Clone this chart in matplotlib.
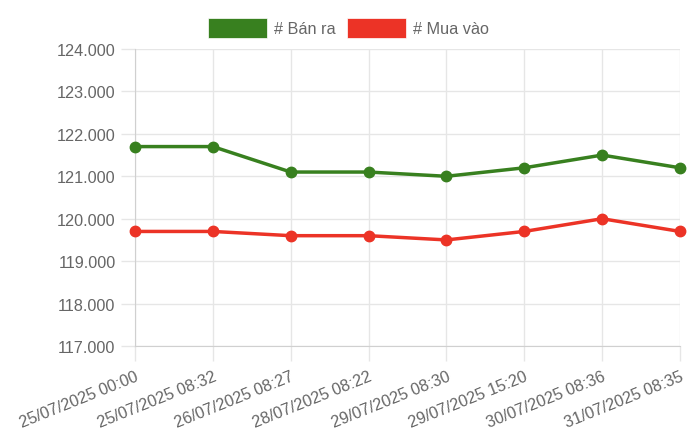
import matplotlib
matplotlib.use("Agg")
import matplotlib.pyplot as plt
from matplotlib.patches import Rectangle

categories = ["25/07/2025 00:00", "25/07/2025 08:32", "26/07/2025 08:27", "28/07/2025 08:22",
              "29/07/2025 08:30", "29/07/2025 15:20", "30/07/2025 08:36", "31/07/2025 08:35"]
ban_ra = [121700, 121700, 121100, 121100, 121000, 121200, 121500, 121200]
mua_vao = [119700, 119700, 119600, 119600, 119500, 119700, 120000, 119700]
yticks = [117000, 118000, 119000, 120000, 121000, 122000, 123000, 124000]
ytick_labels = ["117.000", "118.000", "119.000", "120.000", "121.000", "122.000", "123.000", "124.000"]

GREEN = "#38801f"
RED = "#ec3326"
TXT = "#666666"
GRID = "#e6e6e6"

plt.rcParams['font.family'] = ['Liberation Sans', 'DejaVu Sans']

W, H = 700, 439
fig = plt.figure(figsize=(W/100, H/100), dpi=100)
ax = fig.add_axes([135/W, 1-347/H, (680-135)/W, (347-50)/H])

x = list(range(len(categories)))
ax.plot(x, ban_ra, color=GREEN, lw=2.5, marker='o', ms=7.5, zorder=3, clip_on=False)
ax.plot(x, mua_vao, color=RED, lw=2.5, marker='o', ms=7.5, zorder=3, clip_on=False)

ax.set_xlim(0, len(categories)-1)
ax.set_ylim(117000, 124000)
ax.set_yticks(yticks)
ax.set_yticklabels(ytick_labels)
ax.set_xticks(x)
ax.set_xticklabels(categories, rotation=22, ha='right', rotation_mode='anchor')

ax.grid(True, color=GRID, lw=1)
ax.set_axisbelow(True)
for s in ['top', 'right']:
    ax.spines[s].set_visible(False)
ax.spines['left'].set_color('#d0d0d0')
ax.spines['bottom'].set_color('#d0d0d0')
ax.tick_params(axis='both', colors=GRID, labelcolor=TXT, labelsize=11.7, width=1)
ax.tick_params(axis='y', length=10, pad=4)
ax.tick_params(axis='x', length=11, pad=5)

# legend
def px(xp, yp):
    return xp / W, 1 - yp / H
lx, ly = px(208, 39)
fig.patches.append(Rectangle((lx, ly), 59/W, 20/H, transform=fig.transFigure,
                             facecolor=GREEN, edgecolor='white', lw=0.5))
fig.text(274/W, 1-29/H, "# Bán ra", color=TXT, fontsize=11.7, va='center', ha='left')
lx, ly = px(347, 39)
fig.patches.append(Rectangle((lx, ly), 59/W, 20/H, transform=fig.transFigure,
                             facecolor=RED, edgecolor='white', lw=0.5))
fig.text(413/W, 1-29/H, "# Mua vào", color=TXT, fontsize=11.7, va='center', ha='left')

fig.savefig("out.png", dpi=100, facecolor='white')
